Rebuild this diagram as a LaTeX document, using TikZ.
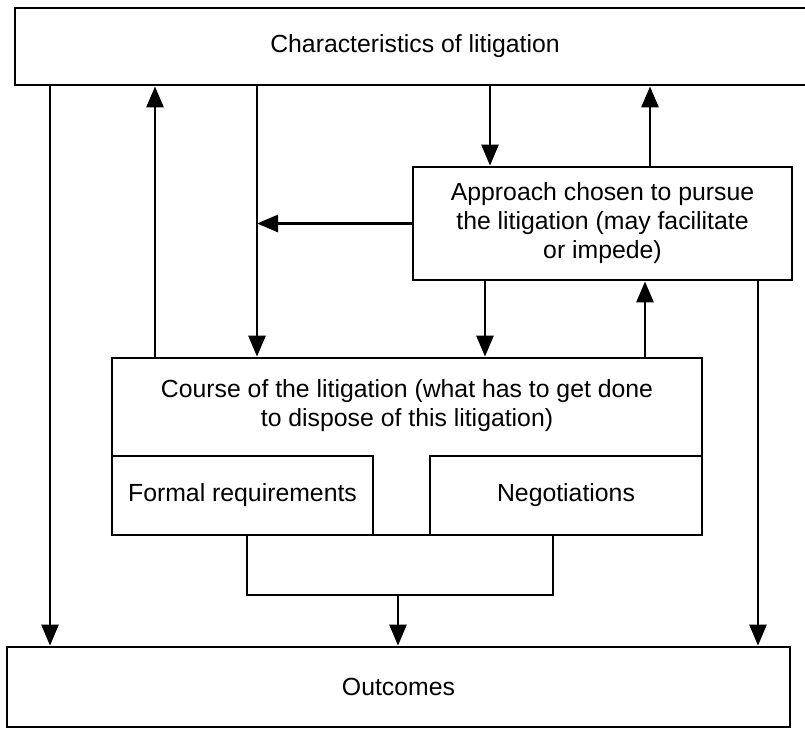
\documentclass[tikz,border=0pt]{standalone}
\usepackage{fontspec}
\setmainfont{Liberation Sans}
\usetikzlibrary{arrows.meta,positioning}

\begin{document}
\begin{tikzpicture}[x=0.5pt,y=-0.5pt,line width=1.4pt,
  font=\fontsize{12.4}{14.5}\selectfont,
  box/.style={draw,rectangle,align=center,inner sep=0pt},
  txt/.style={align=center,inner sep=0pt},
  arr/.style={-{Triangle[length=10.5pt,width=8.5pt]}}]
\useasboundingbox (0,0) rectangle (805,736);
\clip (0,0) rectangle (805,736);
\node[box,minimum width=400pt,minimum height=38.5pt]   (char)   at (415,46.5)   {Characteristics of litigation};
\node[box,minimum width=189.5pt,minimum height=56.5pt] (appr)   at (602.5,223.5) {Approach chosen to pursue\\the litigation (may facilitate\\or impede)};
\node[box,minimum width=295pt,minimum height=88.5pt]   (course) at (407,446.5)  {};
\node[txt]                                             (coursetxt) at (407,406) {Course of the litigation (what has to get done\\to dispose of this litigation)};
\node[box,anchor=south west,minimum width=130.5pt,minimum height=39.5pt] (formal) at (course.south west) {Formal requirements};
\node[box,anchor=south east,minimum width=136pt,minimum height=39.5pt]   (nego)   at (course.south east) {Negotiations};
\node[box,minimum width=391.5pt,minimum height=40pt]   (outc)   at (398.5,687)  {Outcomes};
\coordinate (xa) at (50,0);
\coordinate (xb) at (155,0);
\coordinate (xc) at (257,0);
\coordinate (xd) at (490,0);
\coordinate (xe) at (650,0);
\coordinate (xf) at (485,0);
\coordinate (xg) at (645,0);
\coordinate (xh) at (758,0);
\coordinate (bl) at (247,595);
\coordinate (br) at (553,595);
\coordinate (bm) at (398,595);
\draw[arr] (char.south -| xa) -- (outc.north -| xa);
\draw[arr] (course.north -| xb) -- (char.south -| xb);
\draw[arr] (char.south -| xc) -- (course.north -| xc);
\draw[arr] (char.south -| xd) -- (appr.north -| xd);
\draw[arr] (appr.north -| xe) -- (char.south -| xe);
\draw[arr] (appr.west) -- (appr.west -| xc);
\draw[arr] (appr.south -| xf) -- (course.north -| xf);
\draw[arr] (course.north -| xg) -- (appr.south -| xg);
\draw[arr] (appr.south -| xh) -- (outc.north -| xh);
\draw (formal.south -| bl) -- (bl) -- (br) -- (nego.south -| br);
\draw[arr] (bm) -- (outc.north -| bm);
\end{tikzpicture}
\end{document}
